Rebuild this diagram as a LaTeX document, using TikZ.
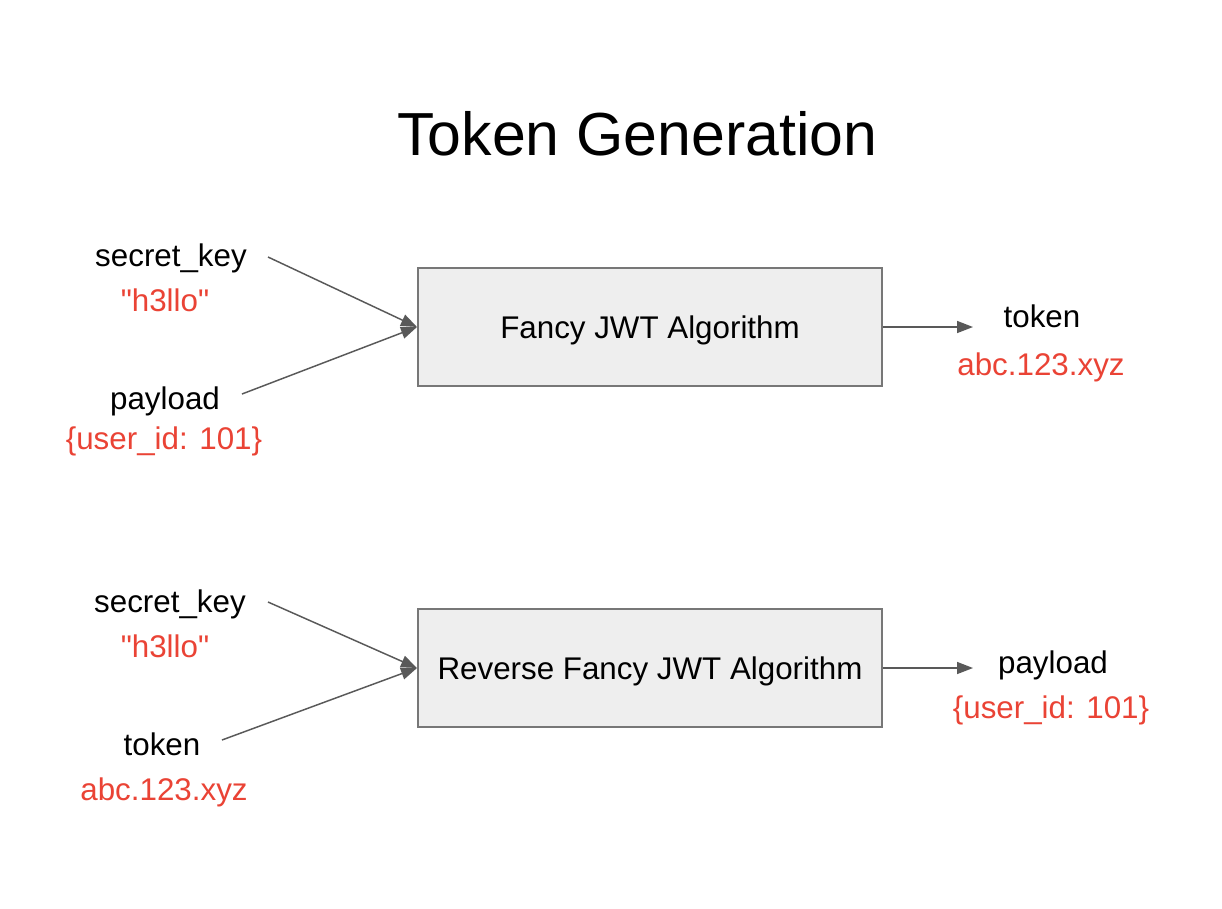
\documentclass[tikz,border=0pt]{standalone}
\usepackage{fontspec}
\setmainfont{Liberation Sans}[Ligatures=TeXOff]
\usetikzlibrary{arrows.meta}
\definecolor{valred}{RGB}{234,67,53}
\definecolor{linegray}{RGB}{89,89,89}
\definecolor{boxfill}{RGB}{238,238,238}
\definecolor{boxdraw}{RGB}{119,119,119}
\begin{document}
\begin{tikzpicture}[x=0.75pt,y=-0.75pt,
  lbl/.style={anchor=base,inner sep=0pt,font=\fontsize{23.5}{28}\selectfont,text=black},
  val/.style={lbl,text=valred},
  algbox/.style={draw=boxdraw,line width=1.5pt,fill=boxfill,minimum width=348pt,minimum height=88.5pt,inner sep=0pt,text depth=0pt,font=\fontsize{23.5}{28}\selectfont},
  conn/.style={draw=linegray,line width=1.1pt,-{Triangle[length=12pt,width=9pt]}}]
\useasboundingbox[fill=white] (0,0) rectangle (1222,908);
% title
\node[anchor=base,inner sep=0pt,font=\fontsize{45.6}{54}\selectfont] (title) at (637.5,155) {Token Generation};
% top row
\node[algbox] (alg1) at (650,327) {Fancy JWT Algorithm};
\node[lbl] (sk1) at (171,266) {secret\_key};
\node[val] (h1) at (165,311) {"h3llo"};
\node[lbl] (pl1) at (165,409) {payload};
\node[val] (u1) at (164,449) {\{user\_id: 101\}};
\node[lbl] (tok1) at (1042,327) {token};
\node[val] (abc1) at (1041,375) {abc.123.xyz};
\coordinate (sk1s) at (268,257);
\coordinate (pl1s) at (242,394);
\coordinate (out1) at (973,327);
\draw[conn] (sk1s) -- (alg1.west);
\draw[conn] (pl1s) -- (alg1.west);
\draw[conn] (alg1.east) -- (out1);
% bottom row
\node[algbox] (alg2) at (650,668) {Reverse Fancy JWT Algorithm};
\node[lbl] (sk2) at (170,612) {secret\_key};
\node[val] (h2) at (165,657) {"h3llo"};
\node[lbl] (tk2) at (162,755) {token};
\node[val] (abc2) at (164,800) {abc.123.xyz};
\node[lbl] (pl2) at (1053,673) {payload};
\node[val] (u2) at (1051,718) {\{user\_id: 101\}};
\coordinate (sk2s) at (268,602);
\coordinate (tk2s) at (222,740);
\coordinate (out2) at (973,668);
\draw[conn] (sk2s) -- (alg2.west);
\draw[conn] (tk2s) -- (alg2.west);
\draw[conn] (alg2.east) -- (out2);
\end{tikzpicture}
\end{document}
